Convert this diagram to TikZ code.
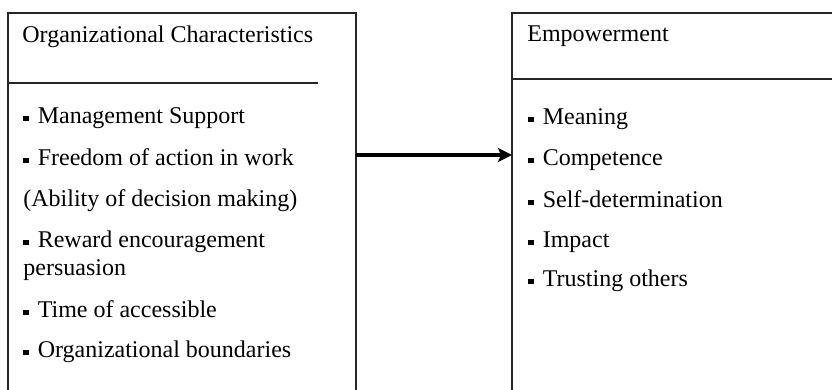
\documentclass[tikz,border=0pt]{standalone}
\usepackage{fontspec}
\setmainfont{Liberation Serif}
\usetikzlibrary{arrows.meta}

% small square bullet in front of each item
\newcommand{\sqbullet}{\rule[1.5pt]{2.6pt}{2.6pt}\hspace{4.6pt}}

\tikzset{
    item/.style={anchor=base west, inner sep=0pt, font=\fontsize{12}{14}\selectfont},
    boxline/.style={line width=1pt, black!85},
}

\begin{document}
\begin{tikzpicture}[x=0.5pt, y=-0.5pt]
    \useasboundingbox (0,0) rectangle (832,390);
    \clip (0,0) rectangle (832,390);

        % left box and its divider
        \draw[boxline] (8,400) -- (8,13) -- (356,13) -- (356,400);
        \draw[boxline] (8,83) -- (318,83);

        % right box and its divider
        \draw[boxline] (512,400) -- (512,13) -- (840,13);
        \draw[boxline] (512,79) -- (840,79);

        \node[item] (orgtitle) at (22,43) {Organizational Characteristics};
        \node[item] (mgmt) at (23,124) {\sqbullet Management Support};
        \node[item] (freedom) at (23,166) {\sqbullet Freedom of action in work};
        \node[item] (ability) at (23,207) {(Ability of decision making)};
        \node[item] (reward) at (23,248) {\sqbullet Reward encouragement};
        \node[item] (persuasion) at (23,276) {persuasion};
        \node[item] (access) at (23,318) {\sqbullet Time of accessible};
        \node[item] (bounds) at (23,358) {\sqbullet Organizational boundaries};

        \node[item] (emptitle) at (527,42) {Empowerment};
        \node[item] (meaning) at (528,125) {\sqbullet Meaning};
        \node[item] (competence) at (528,166) {\sqbullet Competence};
        \node[item] (selfdet) at (528,208) {\sqbullet Self-determination};
        \node[item] (impact) at (528,248) {\sqbullet Impact};
        \node[item] (trust) at (528,287) {\sqbullet Trusting others};

        % arrow from one box to the other
        \coordinate (orgside) at (356,155);
        \coordinate (empside) at (512,155);
        \draw[line width=2pt, -{Stealth[length=7pt,width=7pt,inset=1.5pt]}] (orgside) -- (empside);
    \end{tikzpicture}
\end{document}
